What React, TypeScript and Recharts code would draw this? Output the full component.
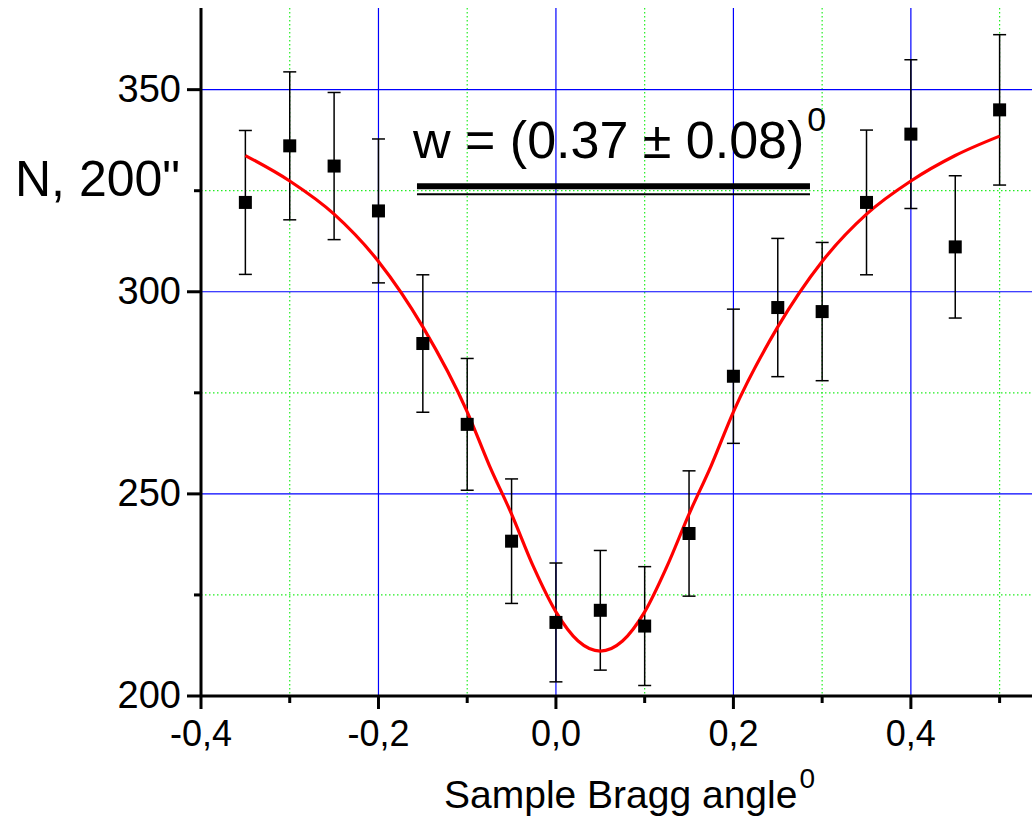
import React from "react";
import {
  ComposedChart,
  Scatter,
  Line,
  XAxis,
  YAxis,
  CartesianGrid,
  ErrorBar,
  ReferenceLine,
} from "recharts";

// measured points: sample Bragg angle (deg), counts N (per 200"), error
const angles = [-0.35, -0.3, -0.25, -0.2, -0.15, -0.1, -0.05, 0.0, 0.05, 0.1, 0.15, 0.2, 0.25, 0.3, 0.35, 0.4, 0.45, 0.5];
const counts = [322.1, 336.1, 331.1, 320.0, 287.2, 267.2, 238.3, 218.2, 221.2, 217.3, 240.2, 279.1, 296.1, 295.1, 322.1, 339.0, 311.1, 345.0];
const errors = [17.8, 18.3, 18.2, 17.8, 17.0, 16.3, 15.4, 14.7, 14.8, 14.7, 15.5, 16.6, 17.1, 17.1, 17.9, 18.4, 17.6, 18.6];

// fitted curve
const fitAngles = [-0.35, -0.3, -0.25, -0.2, -0.15, -0.1, -0.075, -0.05, -0.025, 0, 0.025, 0.05, 0.075, 0.1, 0.125, 0.15, 0.175, 0.2, 0.25, 0.3, 0.35, 0.4, 0.45, 0.5];
const fitCounts = [333.7, 327.4, 319.2, 307.5, 291.3, 270.3, 257.0, 245.0, 231.8, 220.8, 213.6, 211.1, 213.6, 220.8, 232.0, 245.0, 257.0, 270.3, 291.3, 307.5, 319.2, 327.4, 333.7, 338.5];

// ticks & grid
const xTicks = [-0.4, -0.3, -0.2, -0.1, 0.0, 0.1, 0.2, 0.3, 0.4, 0.5];
const xMajor = [-0.4, -0.2, 0.0, 0.2, 0.4];
const xMinorGrid = [-0.3, -0.1, 0.1, 0.3, 0.5];
const xMajorGrid = [-0.2, 0.0, 0.2, 0.4];
const yTicks = [200, 225, 250, 275, 300, 325, 350];
const yMajor = [200, 250, 300, 350];
const yMinorGrid = [225, 275, 325];
const yMajorGrid = [250, 300, 350];

// underline of the width annotation (data coords)
const underlineX = [-0.1566, 0.2863];
const underlineY = [326.1, 324.1];

const FONT = '"Liberation Sans", Arial, sans-serif';

const points = angles.map((x, i) => ({ x, y: counts[i], err: errors[i] }));
const fit = fitAngles.map((x, i) => ({ x, y: fitCounts[i] }));

const fmtX = (v: number) => v.toFixed(1).replace(".", ",");

function XTick(props: any) {
  const { x, y, payload } = props;
  const major = xMajor.includes(payload.value);
  return (
    <g>
      <line x1={x} x2={x} y1={y} y2={y + (major ? 13 : 7)} stroke="#000" strokeWidth={3} />
      {major && (
        <text x={x} y={y + 50} textAnchor="middle" fontSize={36} fontFamily={FONT} fill="#000">
          {fmtX(payload.value)}
        </text>
      )}
    </g>
  );
}

function YTick(props: any) {
  const { x, y, payload } = props;
  const major = yMajor.includes(payload.value);
  return (
    <g>
      <line x1={x - (major ? 14 : 7)} x2={x} y1={y} y2={y} stroke="#000" strokeWidth={3} />
      {major && (
        <text x={x - 20} y={y + 12} textAnchor="end" fontSize={38} fontFamily={FONT} fill="#000">
          {payload.value}
        </text>
      )}
    </g>
  );
}

const Square = (props: any) => {
  const { cx, cy } = props;
  return <rect x={cx - 6.5} y={cy - 6.5} width={13} height={13} fill="#000" />;
};

export default function App() {
  return (
    <div style={{ position: "absolute", left: 0, top: 0, width: 1032, height: 821, background: "#fff", fontFamily: FONT }}>
      <ComposedChart width={1032} height={821} margin={{ top: 8, right: 0, bottom: 0, left: 0 }}>
        <CartesianGrid
          horizontalValues={yMinorGrid}
          verticalValues={xMinorGrid}
          stroke="#22ee22"
          strokeWidth={1.2}
          strokeDasharray="1.5 2.5"
        />
        <CartesianGrid horizontalValues={yMajorGrid} verticalValues={xMajorGrid} stroke="#0000ff" strokeWidth={1.2} />
        <XAxis
          dataKey="x"
          type="number"
          domain={[-0.4, 0.5365]}
          ticks={xTicks}
          interval={0}
          allowDataOverflow
          height={125}
          tickSize={0}
          tickMargin={0}
          tickLine={false}
          tick={<XTick />}
          axisLine={{ stroke: "#000", strokeWidth: 3 }}
        />
        <YAxis
          dataKey="y"
          type="number"
          domain={[200, 370.2]}
          ticks={yTicks}
          interval={0}
          allowDataOverflow
          width={201}
          tickSize={0}
          tickMargin={0}
          tickLine={false}
          tick={<YTick />}
          axisLine={{ stroke: "#000", strokeWidth: 3 }}
        />
        <ReferenceLine
          segment={[{ x: underlineX[0], y: underlineY[0] }, { x: underlineX[1], y: underlineY[0] }]}
          stroke="#000"
          strokeWidth={6}
        />
        <ReferenceLine
          segment={[{ x: underlineX[0], y: underlineY[1] }, { x: underlineX[1], y: underlineY[1] }]}
          stroke="#000"
          strokeWidth={2}
        />
        <Scatter data={points} dataKey="y" shape={<Square />} isAnimationActive={false}>
          <ErrorBar dataKey="err" direction="y" width={6.5} stroke="#000" strokeWidth={1.5} />
        </Scatter>
        <Line
          data={fit}
          dataKey="y"
          type="monotone"
          stroke="#ff0000"
          strokeWidth={3.2}
          dot={false}
          activeDot={false}
          isAnimationActive={false}
        />
      </ComposedChart>
      <svg width={1032} height={821} style={{ position: "absolute", left: 0, top: 0, pointerEvents: "none" }}>
        <text x={15} y={196} fontSize={50} fontFamily={FONT} fill="#000">
          N, 200"
        </text>
        <text x={413} y={158} fontSize={52} fontFamily={FONT} fill="#000">
          w = (0.37 ± 0.08)
          <tspan dx={3} dy={-27} fontSize={34}>0</tspan>
        </text>
        <text x={444} y={808} fontSize={39} fontFamily={FONT} fill="#000">
          Sample Bragg angle
          <tspan dx={2} dy={-20} fontSize={28}>0</tspan>
        </text>
      </svg>
    </div>
  );
}
